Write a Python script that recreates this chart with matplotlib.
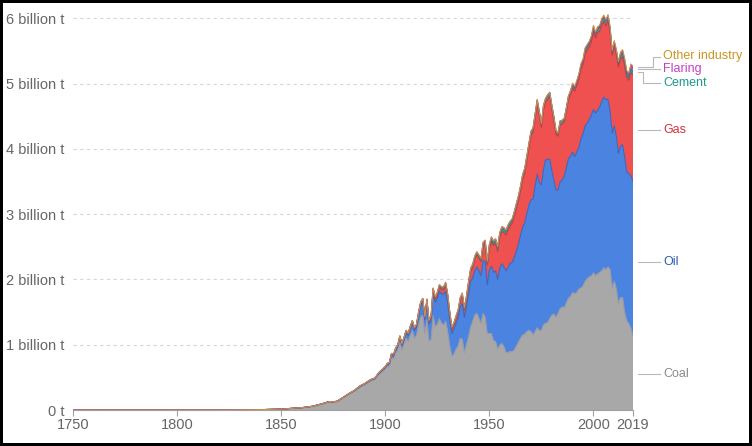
import numpy as np
import matplotlib.pyplot as plt

plt.rcParams['font.family'] = ['Liberation Sans', 'DejaVu Sans']

# years (sparse before 1900, annual after)
years = [1750, 1775, 1800, 1820, 1830, 1840, 1850, 1855, 1860, 1865, 1870, 1873,
         1875, 1877, 1880, 1883, 1885, 1888, 1890, 1893, 1895, 1897] + list(range(1900, 2020))

# billion tonnes CO2
coal = [0.0, 0.00005, 0.0002, 0.0008, 0.002, 0.005, 0.014, 0.025, 0.035, 0.055, 0.095, 0.125,
        0.12, 0.13, 0.19, 0.25, 0.28, 0.35, 0.38, 0.44, 0.46, 0.54,
        # 1900s
        0.62, 0.66, 0.67, 0.80, 0.78, 0.87, 0.91, 1.04, 0.92, 1.00,
        1.10, 1.05, 1.14, 1.22, 1.10, 1.14, 1.30, 1.42, 1.45, 1.17,
        1.38, 1.05, 1.08, 1.44, 1.28, 1.31, 1.40, 1.33, 1.30, 1.36,
        1.20, 0.98, 0.82, 0.86, 0.93, 0.98, 1.10, 1.08, 0.88, 1.00,
        1.12, 1.27, 1.36, 1.45, 1.48, 1.40, 1.33, 1.48, 1.42, 1.17,
        1.17, 1.17, 1.06, 1.05, 0.93, 0.99, 1.02, 0.97, 0.88, 0.88,
        0.90, 0.89, 0.92, 0.98, 1.04, 1.10, 1.15, 1.16, 1.20, 1.22,
        1.20, 1.15, 1.20, 1.26, 1.22, 1.22, 1.30, 1.33, 1.34, 1.40,
        1.45, 1.47, 1.42, 1.48, 1.55, 1.58, 1.57, 1.64, 1.71, 1.74,
        1.80, 1.78, 1.80, 1.85, 1.87, 1.90, 1.97, 2.01, 2.04, 2.05,
        2.10, 2.06, 2.08, 2.11, 2.13, 2.18, 2.15, 2.19, 2.15, 1.87,
        1.97, 1.86, 1.63, 1.72, 1.72, 1.49, 1.37, 1.32, 1.25, 1.12]

oil = [0, 0, 0, 0, 0, 0, 0, 0, 0.001, 0.002, 0.003, 0.004,
       0.004, 0.005, 0.006, 0.008, 0.01, 0.012, 0.015, 0.018, 0.02, 0.025,
       0.03, 0.035, 0.04, 0.045, 0.05, 0.055, 0.06, 0.065, 0.07, 0.075,
       0.085, 0.09, 0.10, 0.11, 0.12, 0.13, 0.15, 0.18, 0.21, 0.21,
       0.26, 0.27, 0.30, 0.35, 0.37, 0.40, 0.42, 0.45, 0.47, 0.46,
       0.44, 0.40, 0.35, 0.38, 0.40, 0.43, 0.48, 0.55, 0.54, 0.58,
       0.66, 0.70, 0.66, 0.68, 0.71, 0.73, 0.73, 0.80, 0.86, 0.75,
       0.97, 1.03, 1.05, 1.08, 1.07, 1.18, 1.22, 1.22, 1.25, 1.30,
       1.35, 1.37, 1.42, 1.45, 1.50, 1.58, 1.65, 1.70, 1.81, 1.92,
       2.02, 2.08, 2.23, 2.35, 2.26, 2.23, 2.38, 2.50, 2.50, 2.44,
       2.22, 2.05, 1.95, 1.89, 1.95, 1.94, 2.02, 2.07, 2.14, 2.15,
       2.15, 2.10, 2.15, 2.17, 2.28, 2.33, 2.38, 2.38, 2.41, 2.47,
       2.50, 2.49, 2.51, 2.53, 2.60, 2.61, 2.60, 2.57, 2.42, 2.37,
       2.38, 2.33, 2.30, 2.32, 2.34, 2.38, 2.27, 2.30, 2.34, 2.38]

gas = [0, 0, 0, 0, 0, 0, 0, 0, 0, 0, 0, 0,
       0, 0, 0.001, 0.002, 0.004, 0.008, 0.006, 0.006, 0.006, 0.007,
       0.01, 0.012, 0.012, 0.013, 0.014, 0.015, 0.016, 0.017, 0.018, 0.02,
       0.022, 0.022, 0.024, 0.025, 0.025, 0.027, 0.03, 0.032, 0.035, 0.034,
       0.036, 0.03, 0.035, 0.045, 0.05, 0.055, 0.06, 0.065, 0.07, 0.09,
       0.09, 0.08, 0.07, 0.07, 0.08, 0.09, 0.10, 0.12, 0.11, 0.12,
       0.14, 0.15, 0.16, 0.18, 0.19, 0.20, 0.21, 0.23, 0.26, 0.30,
       0.33, 0.38, 0.41, 0.42, 0.43, 0.47, 0.49, 0.53, 0.55, 0.58,
       0.57, 0.60, 0.63, 0.66, 0.67, 0.68, 0.73, 0.77, 0.81, 0.88,
       0.98, 1.02, 1.03, 1.07, 1.02, 0.88, 0.92, 0.88, 0.92, 0.96,
       0.94, 0.91, 0.86, 0.82, 0.87, 0.86, 0.82, 0.86, 0.90, 0.94,
       0.98, 1.00, 1.02, 1.05, 1.07, 1.06, 1.11, 1.12, 1.11, 1.12,
       1.20, 1.15, 1.19, 1.16, 1.17, 1.16, 1.13, 1.20, 1.21, 1.19,
       1.23, 1.25, 1.32, 1.34, 1.35, 1.40, 1.45, 1.43, 1.58, 1.63]

cement = [0, 0, 0, 0, 0, 0, 0, 0, 0, 0, 0.0005, 0.0006,
          0.0006, 0.0007, 0.001, 0.0013, 0.0015, 0.002, 0.002, 0.0025, 0.003, 0.0035,
          0.005, 0.006, 0.007, 0.008, 0.008, 0.009, 0.010, 0.011, 0.010, 0.012,
          0.013, 0.013, 0.014, 0.015, 0.014, 0.014, 0.016, 0.016, 0.013, 0.014,
          0.017, 0.016, 0.020, 0.023, 0.025, 0.027, 0.028, 0.029, 0.030, 0.030,
          0.027, 0.022, 0.014, 0.011, 0.013, 0.013, 0.019, 0.018, 0.018, 0.020,
          0.022, 0.027, 0.030, 0.023, 0.016, 0.017, 0.025, 0.028, 0.031, 0.033,
          0.035, 0.038, 0.039, 0.041, 0.042, 0.046, 0.048, 0.045, 0.046, 0.049,
          0.046, 0.046, 0.048, 0.050, 0.052, 0.053, 0.055, 0.053, 0.055, 0.055,
          0.052, 0.055, 0.058, 0.061, 0.057, 0.048, 0.051, 0.054, 0.057, 0.057,
          0.051, 0.049, 0.043, 0.046, 0.050, 0.050, 0.050, 0.051, 0.050, 0.050,
          0.050, 0.047, 0.048, 0.050, 0.053, 0.054, 0.055, 0.057, 0.058, 0.059,
          0.060, 0.061, 0.062, 0.064, 0.067, 0.068, 0.070, 0.066, 0.060, 0.045,
          0.045, 0.046, 0.046, 0.048, 0.050, 0.050, 0.049, 0.049, 0.050, 0.048]

flaring = [0] * 22 + [
    0, 0, 0, 0, 0, 0, 0, 0, 0, 0,
    0, 0, 0, 0, 0, 0, 0, 0, 0, 0,
    0.005, 0.006, 0.007, 0.008, 0.009, 0.010, 0.011, 0.012, 0.013, 0.015,
    0.015, 0.015, 0.016, 0.017, 0.018, 0.019, 0.020, 0.021, 0.020, 0.021,
    0.022, 0.023, 0.024, 0.025, 0.026, 0.026, 0.027, 0.028, 0.029, 0.028,
    0.030, 0.031, 0.030, 0.030, 0.029, 0.030, 0.029, 0.028, 0.027, 0.026,
    0.025, 0.024, 0.023, 0.022, 0.022, 0.021, 0.020, 0.019, 0.018, 0.017,
    0.016, 0.015, 0.013, 0.012, 0.011, 0.010, 0.010, 0.009, 0.009, 0.008,
    0.008, 0.008, 0.008, 0.008, 0.008, 0.008, 0.008, 0.008, 0.008, 0.009,
    0.010, 0.010, 0.011, 0.011, 0.012, 0.012, 0.012, 0.011, 0.010, 0.010,
    0.009, 0.009, 0.008, 0.008, 0.008, 0.008, 0.008, 0.009, 0.010, 0.012,
    0.014, 0.018, 0.025, 0.032, 0.040, 0.045, 0.040, 0.045, 0.060, 0.070]

other_industry = [0] * 22 + [0] * 90 + [
    0.018, 0.018, 0.019, 0.019, 0.020, 0.020, 0.020, 0.021, 0.021, 0.021,
    0.021, 0.020, 0.020, 0.020, 0.021, 0.021, 0.021, 0.021, 0.020, 0.019,
    0.019, 0.019, 0.019, 0.019, 0.019, 0.019, 0.019, 0.019, 0.019, 0.019]

names = ['Coal', 'Oil', 'Gas', 'Cement', 'Flaring', 'Other industry']
fill_colors = ['#a8a8a8', '#4a84e0', '#ef5050', '#2aa595', '#c451c8', '#d19a26']
edge_colors = ['#9a9aa6', '#3a66c0', '#c83a3a', '#1d8a7c', '#a23aa6', '#c8944a']
label_colors = ['#8a8a8a', '#2a5cb8', '#d3303a', '#1f9a8a', '#c43fc4', '#c99620']

fig = plt.figure(figsize=(7.52, 4.46), dpi=100, facecolor='white',
                 edgecolor='black', linewidth=4)
ax = fig.add_axes([73 / 752, 36 / 446, 560 / 752, 0.9004])

polys = ax.stackplot(years, coal, oil, gas, cement, flaring, other_industry,
                     colors=fill_colors, linewidth=0, zorder=2)
stack = np.cumsum(np.array([coal, oil, gas, cement, flaring, other_industry]), axis=0)
for i in range(len(names)):
    ax.plot(years, stack[i], color=edge_colors[i], lw=0.8, zorder=3)

ax.set_xlim(1750, 2019)
ax.set_ylim(0, 6.15)

yt = [0, 1, 2, 3, 4, 5, 6]
ax.set_yticks(yt)
ax.set_yticklabels(['0 t'] + ['%d billion t' % v for v in yt[1:]])
for v in yt[1:]:
    ax.axhline(v, color='#d6d6d6', lw=0.8, ls=(0, (3, 3)), zorder=0)

xt = [1750, 1800, 1850, 1900, 1950, 2000, 2019]
ax.set_xticks(xt)
ax.set_xticklabels([str(v) for v in xt])

for s in ['top', 'right', 'left']:
    ax.spines[s].set_visible(False)
ax.spines['bottom'].set_color('#a0a0a0')
ax.spines['bottom'].set_zorder(2.5)
ax.tick_params(axis='y', length=0, pad=6, labelsize=10.5, labelcolor='#666666')
ax.tick_params(axis='x', length=4, color='#a0a0a0', pad=2, labelsize=10.5,
               labelcolor='#666666')

# right-hand labels with connector lines
lx0, lx1, tx = 2021.2, 2032.2, 2033.6
conn = {
    'Other industry': ([lx0, 2028.4, 2028.4, lx1], [5.26, 5.26, 5.41, 5.41], 5.42),
    'Flaring': ([lx0, lx1], [5.22, 5.22], 5.22),
    'Cement': ([lx0, 2024.0, 2024.0, lx1], [5.18, 5.18, 5.01, 5.01], 5.01),
    'Gas': ([lx0, lx1], [4.29, 4.29], 4.29),
    'Oil': ([lx0, lx1], [2.27, 2.27], 2.27),
    'Coal': ([lx0, lx1], [0.55, 0.55], 0.55),
}
for i, n in enumerate(names):
    xs, ys, ty = conn[n]
    ax.plot(xs, ys, color='#b8b8b8', lw=0.8, clip_on=False)
    ax.text(tx, ty, n, color=label_colors[i], fontsize=9, va='center', ha='left',
            clip_on=False)

fig.savefig('out.png', dpi=100)
